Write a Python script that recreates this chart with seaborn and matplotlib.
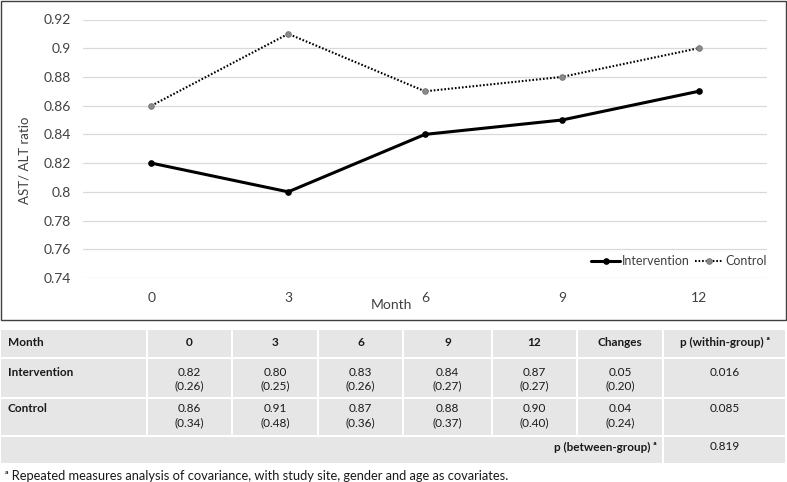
import matplotlib
matplotlib.use('Agg')
import matplotlib.pyplot as plt
from matplotlib.patches import Rectangle
from matplotlib.ticker import MultipleLocator, FuncFormatter
import seaborn as sns
import pandas as pd

# chart data
months = [0, 3, 6, 9, 12]
intervention = [0.82, 0.80, 0.84, 0.85, 0.87]
control = [0.86, 0.91, 0.87, 0.88, 0.90]

# table data
header = ['Month', '0', '3', '6', '9', '12', 'Changes', 'p (within-group) ᵃ']
int_mean = ['0.82', '0.80', '0.83', '0.84', '0.87', '0.05']
int_sd = ['(0.26)', '(0.25)', '(0.26)', '(0.27)', '(0.27)', '(0.20)']
ctl_mean = ['0.86', '0.91', '0.87', '0.88', '0.90', '0.04']
ctl_sd = ['(0.34)', '(0.48)', '(0.36)', '(0.37)', '(0.40)', '(0.24)']
p_within = ['0.016', '0.085']
p_between = '0.819'
footnote = 'ᵃ Repeated measures analysis of covariance, with study site, gender and age as covariates.'

sns.set_theme(style='white')
plt.rcParams['font.family'] = ['Lato', 'DejaVu Sans']

W, H = 787, 482
fig = plt.figure(figsize=(W / 100, H / 100), dpi=100)

# overlay in pixel coords for the frame and the table
ov = fig.add_axes([0, 0, 1, 1])
ov.set_xlim(0, W)
ov.set_ylim(H, 0)
ov.axis('off')

ax = fig.add_axes([83 / W, 1 - 278 / H, (767 - 83) / W, (278 - 19.5) / H])
ax.set_facecolor('white')

df = pd.DataFrame({
    'Month': months * 2,
    'Ratio': intervention + control,
    'Group': ['Intervention'] * len(months) + ['Control'] * len(months),
})

sns.lineplot(data=df[df.Group == 'Intervention'], x='Month', y='Ratio', ax=ax,
             color='black', lw=2.2, marker='o', markersize=4,
             markerfacecolor='black', markeredgecolor='black', label='Intervention')
sns.lineplot(data=df[df.Group == 'Control'], x='Month', y='Ratio', ax=ax,
             color='black', lw=1.5, linestyle=(0, (0.8, 0.9)), marker='o', markersize=4,
             markerfacecolor='#8a8a8a', markeredgecolor='#7a7a7a', label='Control')

ax.set_ylim(0.74, 0.92)
ax.set_xlim(-1.5, 13.5)
ax.set_xticks(months)
ax.yaxis.set_major_locator(MultipleLocator(0.02))
ax.yaxis.set_major_formatter(FuncFormatter(lambda v, _: f'{round(v, 2):g}'))
ax.grid(axis='y', color='#d9d9d9', lw=0.9)
ax.grid(axis='x', visible=False)
for s in ax.spines.values():
    s.set_visible(False)
ax.tick_params(axis='both', length=0, labelsize=10, colors='#404040')
ax.tick_params(axis='y', pad=9)
ax.tick_params(axis='x', pad=10)
ax.set_xlabel('')
ax.set_ylabel('')

ax.legend(loc='center right', bbox_to_anchor=(773 / W, 1 - 261 / H),
          bbox_transform=fig.transFigure, ncol=2, frameon=False, fontsize=9,
          handlelength=2.3, handletextpad=0.15, columnspacing=0.4,
          borderpad=0, labelcolor='#404040', numpoints=1)

fig.text(25 / W, 1 - 160 / H, 'AST/ ALT ratio', rotation=90, ha='center', va='center',
         fontsize=9.5, color='#404040')
fig.text(391 / W, 1 - 305 / H, 'Month', ha='center', va='center', fontsize=10, color='#404040')

# chart frame
ov.add_patch(Rectangle((0.5, 0.5), 785, 319.5, fill=False, ec='#404040', lw=1.0))

# table
cell = '#e7e6e6'
txt = '#1a1a1a'
cols = [0, 147, 232, 318, 403, 492, 577, 663, 786]
rows = [(330, 357), (359, 397), (399, 435), (437, 463)]
for r, (y0, y1) in enumerate(rows):
    if r < 3:
        for c in range(len(cols) - 1):
            ov.add_patch(Rectangle((cols[c] + 1, y0), cols[c + 1] - cols[c] - 2, y1 - y0,
                                   fc=cell, ec='none'))
    else:
        ov.add_patch(Rectangle((cols[0] + 1, y0), cols[7] - cols[0] - 2, y1 - y0, fc=cell, ec='none'))
        ov.add_patch(Rectangle((cols[7] + 1, y0), cols[8] - cols[7] - 2, y1 - y0, fc=cell, ec='none'))

fs = 8.5
centers = [(cols[i] + cols[i + 1]) / 2 for i in range(len(cols) - 1)]
ov.text(8, 342, header[0], ha='left', va='center', fontsize=fs, fontweight='bold', color=txt)
for c in range(1, len(header)):
    ov.text(centers[c], 342, header[c], ha='center', va='center', fontsize=fs,
            fontweight='bold', color=txt)

for label, means, sds, p, ym in [('Intervention', int_mean, int_sd, p_within[0], 372),
                                 ('Control', ctl_mean, ctl_sd, p_within[1], 409)]:
    ov.text(8, ym, label, ha='left', va='center', fontsize=fs, fontweight='bold', color=txt)
    for i, (m, s) in enumerate(zip(means, sds)):
        ov.text(centers[i + 1], ym, m, ha='center', va='center', fontsize=fs, color=txt)
        ov.text(centers[i + 1], ym + 14, s, ha='center', va='center', fontsize=fs, color=txt)
    ov.text(centers[7], ym, p, ha='center', va='center', fontsize=fs, color=txt)

ov.text(657, 447, 'p (between-group) ᵃ', ha='right', va='center', fontsize=fs,
        fontweight='bold', color=txt)
ov.text(centers[7], 447, p_between, ha='center', va='center', fontsize=fs, color=txt)
ov.text(5, 476, footnote, ha='left', va='center', fontsize=9.3, color=txt)

fig.savefig('out.png', dpi=100)
